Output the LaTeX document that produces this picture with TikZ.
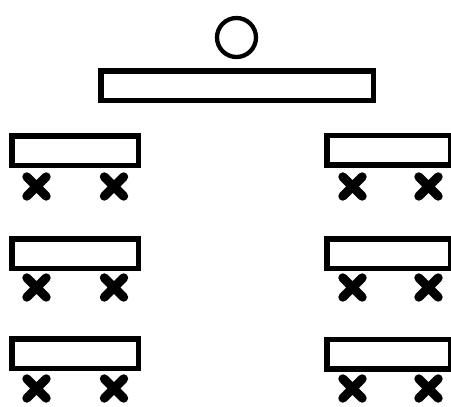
\documentclass[tikz,border=0pt]{standalone}
\begin{document}
\begin{tikzpicture}[x=1pt, y=-1pt,
  bar/.style={draw, line width=5.5pt, inner sep=0pt, minimum height=29.5pt},
  leftbar/.style={bar, minimum width=126.2pt},
  rightbar/.style={bar, minimum width=124pt},
  cross/.pic={\draw[line width=9pt, line cap=round] (-9.7,-9.7) -- (9.7,9.7) (-9.7,9.7) -- (9.7,-9.7);}]
\useasboundingbox (0,0) rectangle (451,407);
\begin{scope}
\clip (0,0) rectangle (451,407);
% head and top bar
\node[draw, circle, line width=4.3pt, minimum size=39pt, inner sep=0pt] (head) at (236.5,37.5) {};
\node[bar, minimum width=272.2pt] (top) at (237.2,85.8) {};
% left column
\node[leftbar] (l1) at (75.2,150.8) {};
\node[leftbar] (l2) at (75.2,253.8) {};
\node[leftbar] (l3) at (75.2,353.5) {};
% right column
\node[rightbar] (r1) at (388.75,150.3) {};
\node[rightbar] (r2) at (388.75,253.5) {};
\node[rightbar] (r3) at (388.75,354.3) {};
% crosses under each bar
\foreach \y in {186.5,287.5,388.5}{
  \pic at (36.5,\y) {cross};
  \pic at (114,\y) {cross};
  \pic at (352.5,\y) {cross};
  \pic at (428.5,\y) {cross};
}
\end{scope}
\end{tikzpicture}
\end{document}
